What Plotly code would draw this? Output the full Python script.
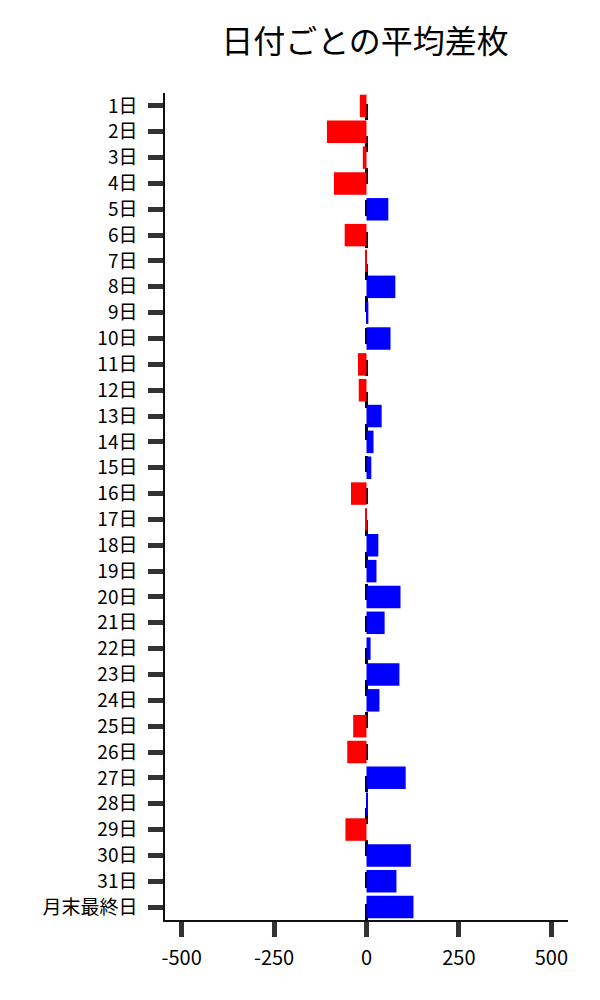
import plotly.graph_objects as go

# 日付ラベルと平均差枚
days = [f"{i}日" for i in range(1, 32)] + ["月末最終日"]
avg_diff = [
    -18, -107, -10, -88, 59, -59, -4, 78, 5, 65,
    -23, -21, 41, 19, 13, -42, -2, 32, 27, 92,
    49, 11, 89, 35, -36, -52, 106, 4, -57, 120,
    81, 127,
]

colors = ["#0000ff" if v >= 0 else "#ff0000" for v in avg_diff]

fig = go.Figure(go.Bar(
    x=avg_diff,
    y=days,
    orientation="h",
    marker=dict(color=colors, line=dict(width=0)),
    width=0.87,
))

# 0 の位置に破線
fig.add_shape(
    type="line", x0=0, x1=0, y0=0, y1=1, yref="paper",
    line=dict(color="black", width=3, dash="16px,16px"),
    layer="below",
)

# ページ余白(8px)を見込んだマージン
fig.update_layout(
    width=600, height=1000,
    title=dict(text="日付ごとの平均差枚", x=0.595, xanchor="center",
               y=0.966, yanchor="middle",
               font=dict(size=32, color="black")),
    font=dict(family="Noto Sans CJK JP", size=19, color="black"),
    plot_bgcolor="white", paper_bgcolor="white",
    margin=dict(l=157, r=40, t=85, b=88),
    showlegend=False,
)

fig.update_xaxes(
    range=[-545, 545],
    tickvals=[-500, -250, 0, 250, 500],
    ticktext=["-500", "-250", "0", "250", "500"],
    tickfont=dict(size=20),
    showgrid=False, zeroline=False,
    showline=True, linecolor="#111", linewidth=1.5,
    ticks="outside", ticklen=15, tickwidth=5, tickcolor="#333",
    ticklabelstandoff=4,
)
fig.update_yaxes(
    categoryorder="array", categoryarray=days,
    autorange="reversed",
    showgrid=False, zeroline=False,
    showline=True, linecolor="#111", linewidth=1.5,
    ticks="outside", ticklen=15, tickwidth=5, tickcolor="#333",
    ticklabelstandoff=7,
)

fig.write_html("out.html")
